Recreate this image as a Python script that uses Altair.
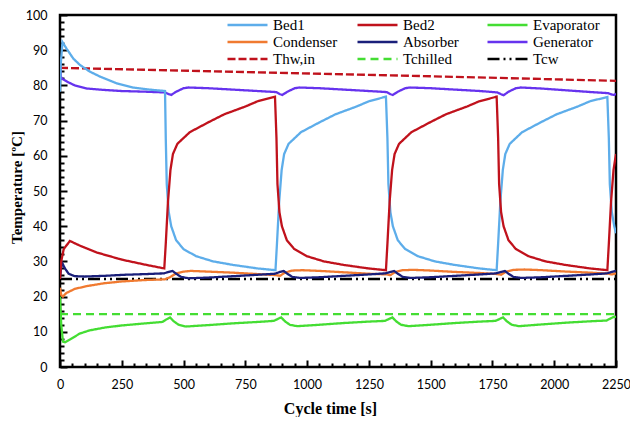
import altair as alt
import pandas as pd

# ---- data ----
# legend order (filled column by column, 3 rows)
series_names = ["Bed1", "Condenser", "Thw,in", "Bed2", "Absorber",
                "Tchilled", "Evaporator", "Generator", "Tcw"]
series_colors = ["#5DADEA", "#F07A30", "#C0121C", "#C0121C", "#1A1F7A",
                 "#44DD33", "#44DD33", "#6633EE", "#000000"]
series_dashes = [[1, 0], [1, 0], [8, 3], [1, 0], [1, 0],
                 [8, 5], [1, 0], [1, 0], [12, 4, 2, 4, 2, 4]]

bed1_t = [0, 3, 10, 27, 54, 81, 121, 162, 229, 296, 363, 425,
          428, 432, 440, 450, 470, 500, 550, 620, 700, 800, 872,
          878, 887, 897, 907, 925, 975, 1050, 1115, 1200, 1250, 1319,
          1325, 1329, 1337, 1347, 1367, 1397, 1447, 1517, 1597, 1697, 1767,
          1773, 1782, 1792, 1802, 1820, 1870, 1945, 2010, 2095, 2145, 2215,
          2221, 2225, 2233, 2243, 2250]
bed1_v = [78.2, 86.0, 92.3, 90.4, 87.6, 85.8, 83.9, 82.5, 80.6, 79.4, 78.8, 78.4,
          65.0, 52.0, 44.0, 40.0, 36.0, 33.5, 31.5, 30.0, 29.0, 28.0, 27.5,
          35.0, 47.0, 56.0, 60.5, 63.4, 66.7, 69.5, 71.8, 74.0, 75.5, 76.8,
          65.0, 52.0, 44.0, 40.0, 36.0, 33.5, 31.5, 30.0, 29.0, 28.0, 27.5,
          35.0, 47.0, 56.0, 60.5, 63.4, 66.7, 69.5, 71.8, 74.0, 75.5, 76.7,
          65.0, 52.0, 44.0, 40.0, 38.0]

bed2_t = [0, 5, 15, 40, 80, 150, 250, 350, 422,
          428, 437, 447, 457, 475, 525, 600, 665, 750, 800, 870,
          876, 880, 888, 898, 918, 948, 998, 1068, 1148, 1248, 1319,
          1325, 1334, 1344, 1354, 1372, 1422, 1497, 1562, 1647, 1697, 1767,
          1773, 1777, 1785, 1795, 1815, 1845, 1895, 1965, 2045, 2145, 2215,
          2221, 2230, 2240, 2250]
bed2_v = [25.0, 30.0, 33.5, 35.8, 34.5, 32.5, 30.5, 29.0, 28.0,
          35.0, 47.0, 56.0, 60.5, 63.4, 66.7, 69.5, 71.8, 74.0, 75.5, 76.8,
          65.0, 52.0, 44.0, 40.0, 36.0, 33.5, 31.5, 30.0, 29.0, 28.0, 27.5,
          35.0, 47.0, 56.0, 60.5, 63.4, 66.7, 69.5, 71.8, 74.0, 75.5, 76.8,
          65.0, 52.0, 44.0, 40.0, 36.0, 33.5, 31.5, 30.0, 29.0, 28.0, 27.5,
          35.0, 47.0, 56.0, 60.5]

evap_t = [0, 5, 12, 20, 40, 80, 120, 180, 250, 330, 415, 430, 445, 460, 480, 510,
          600, 700, 800, 865, 880, 895, 910, 930, 960, 1050, 1150, 1250, 1315,
          1330, 1345, 1360, 1380, 1410, 1500, 1600, 1700, 1762, 1778, 1793, 1808,
          1828, 1858, 1950, 2050, 2150, 2212, 2228, 2243, 2250]
evap_v = [20.0, 12.0, 7.2, 7.0, 7.8, 9.5, 10.4, 11.2, 11.8, 12.3, 12.8, 13.5, 14.1, 13.0, 12.0, 11.5,
          11.9, 12.4, 12.8, 13.1, 13.6, 14.1, 13.0, 12.0, 11.6, 12.0, 12.5, 12.9, 13.1,
          13.6, 14.1, 13.0, 12.0, 11.6, 12.0, 12.5, 12.9, 13.1, 13.6, 14.1, 13.0,
          12.0, 11.6, 12.1, 12.6, 13.0, 13.2, 13.8, 14.3, 14.2]

cond_t = [0, 5, 12, 25, 60, 110, 180, 250, 340, 425, 445, 470, 500, 530, 600, 700,
          800, 875, 890, 910, 940, 980, 1050, 1150, 1250, 1322, 1337, 1357, 1387,
          1430, 1500, 1600, 1700, 1770, 1785, 1805, 1835, 1880, 1950, 2050, 2150,
          2218, 2233, 2250]
cond_v = [22.5, 20.5, 20.0, 21.0, 22.2, 23.0, 23.8, 24.3, 24.7, 24.9, 25.5, 26.6, 27.1, 27.3, 27.1, 26.8,
          26.4, 26.1, 25.9, 26.8, 27.4, 27.5, 27.3, 26.9, 26.5, 26.3, 26.1, 27.0, 27.5,
          27.6, 27.4, 27.0, 26.7, 26.4, 26.2, 27.1, 27.6, 27.7, 27.5, 27.1, 26.8,
          26.5, 26.3, 26.6]

absb_t = [0, 5, 10, 20, 35, 60, 100, 180, 260, 350, 420, 440, 455, 470, 490, 520,
          600, 700, 800, 870, 890, 905, 920, 940, 970, 1050, 1150, 1250, 1317,
          1337, 1352, 1367, 1387, 1417, 1500, 1600, 1700, 1765, 1785, 1800, 1815,
          1835, 1865, 1950, 2050, 2150, 2213, 2233, 2248, 2250]
absb_v = [25.5, 28.5, 29.4, 28.0, 26.5, 25.8, 25.7, 25.9, 26.2, 26.4, 26.6, 27.0, 27.3, 26.5, 25.6, 25.2,
          25.4, 25.8, 26.2, 26.5, 27.0, 27.3, 26.5, 25.6, 25.3, 25.5, 25.9, 26.3, 26.6,
          27.0, 27.3, 26.5, 25.6, 25.3, 25.5, 25.9, 26.3, 26.6, 27.0, 27.3, 26.5,
          25.6, 25.3, 25.5, 25.9, 26.3, 26.6, 27.0, 27.3, 27.2]

gen_t = [0, 3, 10, 30, 60, 110, 180, 250, 350, 425, 440, 450, 470, 500, 520,
         600, 700, 800, 875, 890, 900, 920, 950, 970, 1050, 1150, 1250, 1322,
         1337, 1347, 1367, 1397, 1417, 1500, 1600, 1700, 1770, 1785, 1795, 1815,
         1845, 1865, 1950, 2050, 2150, 2218, 2233, 2243, 2250]
gen_v = [88.0, 82.5, 81.8, 81.0, 80.0, 79.1, 78.7, 78.4, 78.2, 78.0, 77.5, 77.3, 78.2, 79.2, 79.4,
         79.2, 78.8, 78.4, 78.1, 77.5, 77.3, 78.2, 79.2, 79.4, 79.2, 78.8, 78.4, 78.1,
         77.5, 77.3, 78.2, 79.2, 79.4, 79.2, 78.8, 78.4, 78.0, 77.5, 77.2, 78.2,
         79.2, 79.4, 79.1, 78.6, 78.1, 77.8, 77.4, 77.3, 77.6]

thw_t = [0, 750, 1500, 2250]
thw_v = [85.0, 83.8, 82.6, 81.3]

tchill_t = [0, 2250]
tchill_v = [15.0, 15.0]

tcw_t = [0, 2250]
tcw_v = [25.0, 25.0]

x_ticks = list(range(0, 2251, 50))
y_ticks = list(range(0, 101, 2))

# ---- long table ----
series_data = [
    ("Thw,in", thw_t, thw_v), ("Tchilled", tchill_t, tchill_v), ("Tcw", tcw_t, tcw_v),
    ("Evaporator", evap_t, evap_v), ("Condenser", cond_t, cond_v),
    ("Absorber", absb_t, absb_v), ("Generator", gen_t, gen_v),
    ("Bed1", bed1_t, bed1_v), ("Bed2", bed2_t, bed2_v),
]
rows = []
for name, ts, vs in series_data:
    for t, v in zip(ts, vs):
        rows.append({"series": name, "t": t, "T": v})
df = pd.DataFrame(rows)

PLOT_W = 556
PLOT_H = 352

legend = alt.Legend(
    title=None, orient="none", legendX=166, legendY=3, columns=3,
    gridAlign="all", columnPadding=16, rowPadding=2, padding=0,
    symbolType="stroke", symbolSize=1600, symbolStrokeWidth=2.5,
    clipHeight=14, labelFont="Liberation Serif", labelFontSize=15,
    labelColor="#000", labelOffset=4, labelLimit=200,
)

x_major = [0, PLOT_H - 7, 7, 3000]
x_minor = [0, PLOT_H - 4, 4, 3000]

chart = alt.Chart(df).mark_line(strokeWidth=2.3, clip=True).encode(
    x=alt.X("t:Q", title="Cycle time [s]",
            scale=alt.Scale(domain=[0, 2250], nice=False, zero=False),
            axis=alt.Axis(values=x_ticks, ticks=False, domain=False,
                          labelExpr="datum.value % 250 === 0 ? datum.label : ''",
                          labelOverlap=False, labelFlush=False,
                          format="d",
                          grid=True, gridColor="#000", gridOpacity=1, gridWidth=2,
                          gridDash={"condition": {"test": "datum.value % 250 === 0", "value": x_major},
                                    "value": x_minor},
                          labelFont="Lato", labelFontSize=12.5, labelColor="#000",
                          labelPadding=11,
                          titleFont="Liberation Serif", titleFontSize=16,
                          titleFontWeight="bold", titleColor="#000",
                          titlePadding=10, titleX=270)),
    y=alt.Y("T:Q", title="Temperature [ºC]",
            scale=alt.Scale(domain=[0, 100], nice=False),
            axis=alt.Axis(values=y_ticks, ticks=False, domain=False,
                          labelExpr="datum.value % 10 === 0 ? datum.label : ''",
                          labelOverlap=False,
                          grid=True, gridColor="#000", gridOpacity=1, gridWidth=2,
                          gridDash={"condition": {"test": "datum.value % 10 === 0", "value": [7, 3000]},
                                    "value": [4, 3000]},
                          labelFont="Lato", labelFontSize=12.5, labelColor="#000",
                          labelPadding=13,
                          titleFont="Liberation Serif", titleFontSize=15,
                          titleFontWeight="bold", titleColor="#000",
                          titleX=-36, titleY=PLOT_H / 2 - 4, titleAngle=270,
                          titleBaseline="bottom", titleAlign="center")),
    color=alt.Color("series:N", scale=alt.Scale(domain=series_names, range=series_colors),
                    legend=legend),
    strokeDash=alt.StrokeDash("series:N", scale=alt.Scale(domain=series_names, range=series_dashes),
                              legend=legend),
    order=alt.Order("t:Q"),
).properties(
    width=PLOT_W, height=PLOT_H,
    autosize=alt.AutoSizeParams(type="none"),
    padding={"left": 52, "top": 7, "right": 14, "bottom": 50},
).configure_view(
    stroke="#000", strokeWidth=2.5
)

chart.save("out.html", embed_options={"renderer": "svg", "actions": False})
